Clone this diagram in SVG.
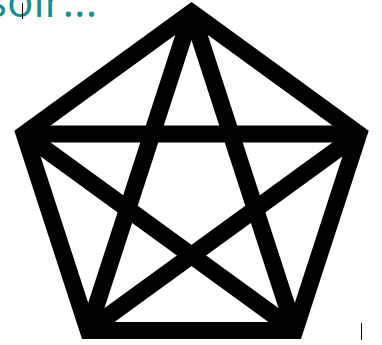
<svg xmlns="http://www.w3.org/2000/svg" width="382" height="345" viewBox="0 0 382 345">
<style>
.edge{fill:none;stroke:#000;stroke-width:17;stroke-linejoin:miter;stroke-miterlimit:10}
.star{fill:none;stroke:#000;stroke-width:17;stroke-linecap:butt}
.cursor{stroke:#000;stroke-width:1}
.title{font-family:"Open Sans","Liberation Sans",sans-serif;font-size:44px;fill:#148f8c}
</style>
<rect width="382" height="345" fill="#fff"/>
<text class="title" x="-14" y="17">soir...</text>
<line class="cursor" x1="22.5" y1="3" x2="22.5" y2="19"/>
<g id="connectors">
<polygon class="edge" points="191.5,12.5 358.7,134 294.8,330.5 88.2,330.5 24.3,134"/>
<line class="star" x1="191.5" y1="12.5" x2="88.2" y2="330.5"/>
<line class="star" x1="191.5" y1="12.5" x2="294.8" y2="330.5"/>
<line class="star" x1="24.3" y1="134" x2="358.7" y2="134"/>
<line class="star" x1="24.3" y1="134" x2="294.8" y2="330.5"/>
<line class="star" x1="358.7" y1="134" x2="88.2" y2="330.5"/>
</g>
<line class="cursor" x1="361.5" y1="323" x2="361.5" y2="340"/>
</svg>
